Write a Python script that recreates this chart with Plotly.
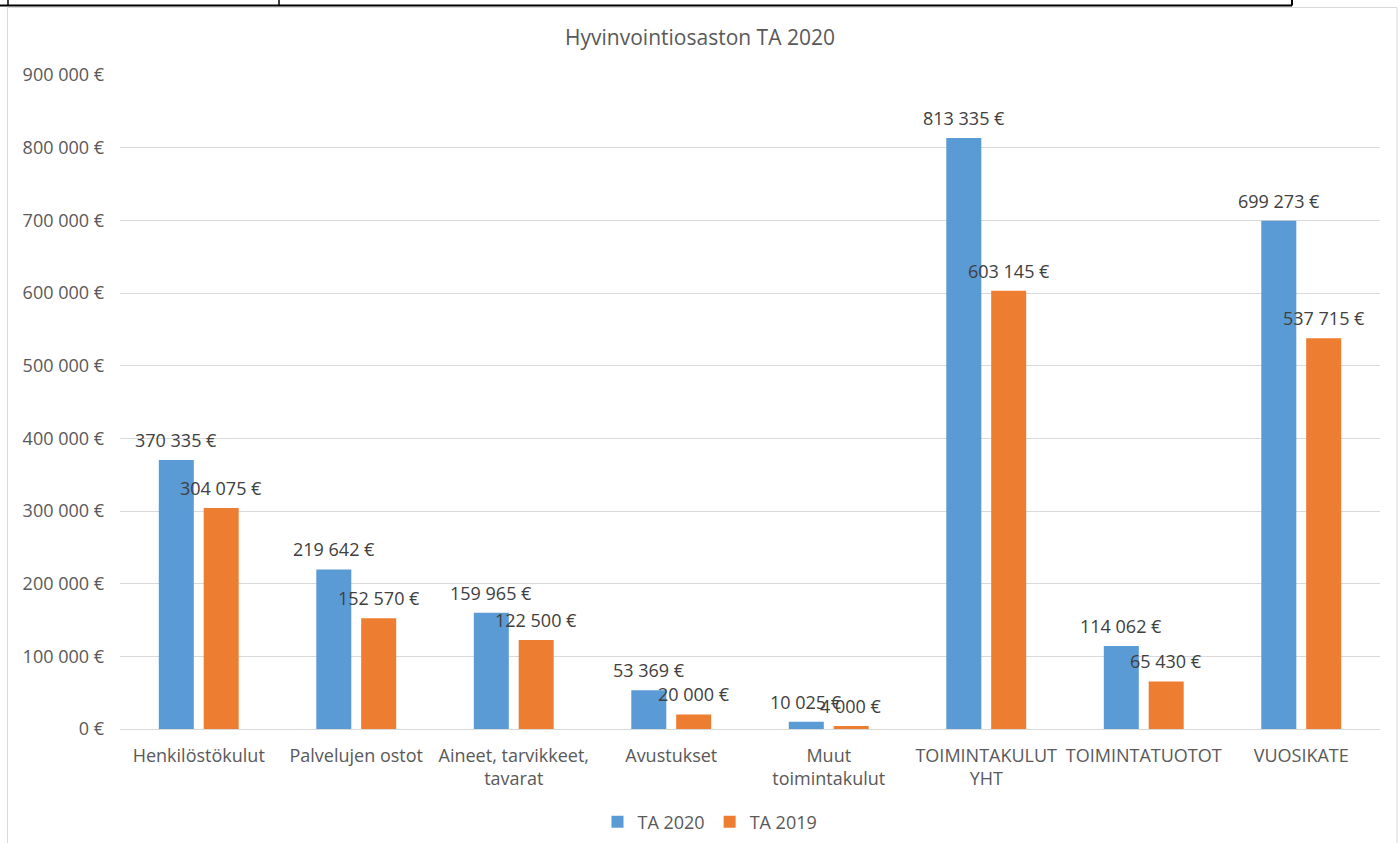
import plotly.graph_objects as go

categories = ["Henkilöstökulut", "Palvelujen ostot", "Aineet, tarvikkeet,<br>tavarat",
              "Avustukset", "Muut<br>toimintakulut", "TOIMINTAKULUT<br>YHT",
              "TOIMINTATUOTOT", "VUOSIKATE"]
ta2020 = [370335, 219642, 159965, 53369, 10025, 813335, 114062, 699273]
ta2019 = [304075, 152570, 122500, 20000, 4000, 603145, 65430, 537715]
tick_vals = [0, 100000, 200000, 300000, 400000, 500000, 600000, 700000, 800000, 900000]
tick_text = ["0 €", "100 000 €", "200 000 €", "300 000 €", "400 000 €", "500 000 €",
             "600 000 €", "700 000 €", "800 000 €", "900 000 €"]

BLUE = "#5B9BD5"
ORANGE = "#ED7D31"
GREY = "#595959"
FONT = "Open Sans"
FS = 18

fig = go.Figure()
fig.add_trace(go.Bar(name="TA 2020", x=categories, y=ta2020, marker_color=BLUE,
                     marker_line_width=0))
fig.add_trace(go.Bar(name="TA 2019", x=categories, y=ta2019, marker_color=ORANGE,
                     marker_line_width=0))

annotations = []
for vals, shift in ((ta2020, -22.5), (ta2019, 22.5)):
    for c, v in zip(categories, vals):
        annotations.append(dict(x=c, y=v, xref="x", yref="y", xshift=shift, yshift=20,
                                text=f"{v:,}".replace(",", " ") + " €", showarrow=False,
                                font=dict(family=FONT, size=FS, color="#404040")))

PX = lambda px: (px - 120) / 1260
PY = lambda py: (729 - py) / 654

shapes = [
    # chart area border
    dict(type="rect", xref="paper", yref="paper", x0=PX(7.5), x1=PX(1397),
         y0=PY(860), y1=PY(7.5), line=dict(color="#D9D9D9", width=1),
         fillcolor="rgba(0,0,0,0)", layer="below"),
    # top table fragment
    dict(type="line", xref="paper", yref="paper", x0=PX(0), x1=PX(1292),
         y0=PY(5.5), y1=PY(5.5), line=dict(color="black", width=2)),
    dict(type="line", xref="paper", yref="paper", x0=PX(8), x1=PX(8),
         y0=PY(5.5), y1=PY(-5), line=dict(color="black", width=1.5)),
    dict(type="line", xref="paper", yref="paper", x0=PX(279), x1=PX(279),
         y0=PY(5.5), y1=PY(-5), line=dict(color="black", width=1.5)),
    dict(type="line", xref="paper", yref="paper", x0=PX(1292), x1=PX(1292),
         y0=PY(5.5), y1=PY(-5), line=dict(color="black", width=2)),
]

fig.update_layout(
    width=1400, height=843,
    margin=dict(l=120, r=20, t=75, b=114, autoexpand=False),
    paper_bgcolor="white", plot_bgcolor="white",
    barmode="group", bargap=0.43, bargroupgap=0.22,
    title=dict(text="Hyvinvointiosaston TA 2020", x=0.5, xanchor="center", y=1 - 38 / 843,
               yanchor="middle", font=dict(family=FONT, size=21, color=GREY)),
    font=dict(family=FONT, size=FS, color=GREY),
    xaxis=dict(showgrid=False, showline=True, linecolor="#D9D9D9", linewidth=1,
               ticks="", automargin=False, ticklabelstandoff=10,
               tickfont=dict(family=FONT, size=FS, color=GREY)),
    yaxis=dict(range=[0, 900000], tickvals=tick_vals, ticktext=tick_text,
               showgrid=True, gridcolor="#D9D9D9", gridwidth=1, zeroline=False,
               showline=False, ticks="", automargin=False, ticklabelstandoff=15,
               tickfont=dict(family=FONT, size=FS, color=GREY)),
    legend=dict(orientation="h", x=0.5 - 40 / 1260, xanchor="center", y=PY(822), yanchor="middle",
                font=dict(family=FONT, size=18, color=GREY), itemwidth=30),
    annotations=annotations,
    shapes=shapes,
)

fig.write_html("out.html", config={"displayModeBar": False},
               post_script="document.body.style.margin='0';document.body.style.overflow='hidden';")
